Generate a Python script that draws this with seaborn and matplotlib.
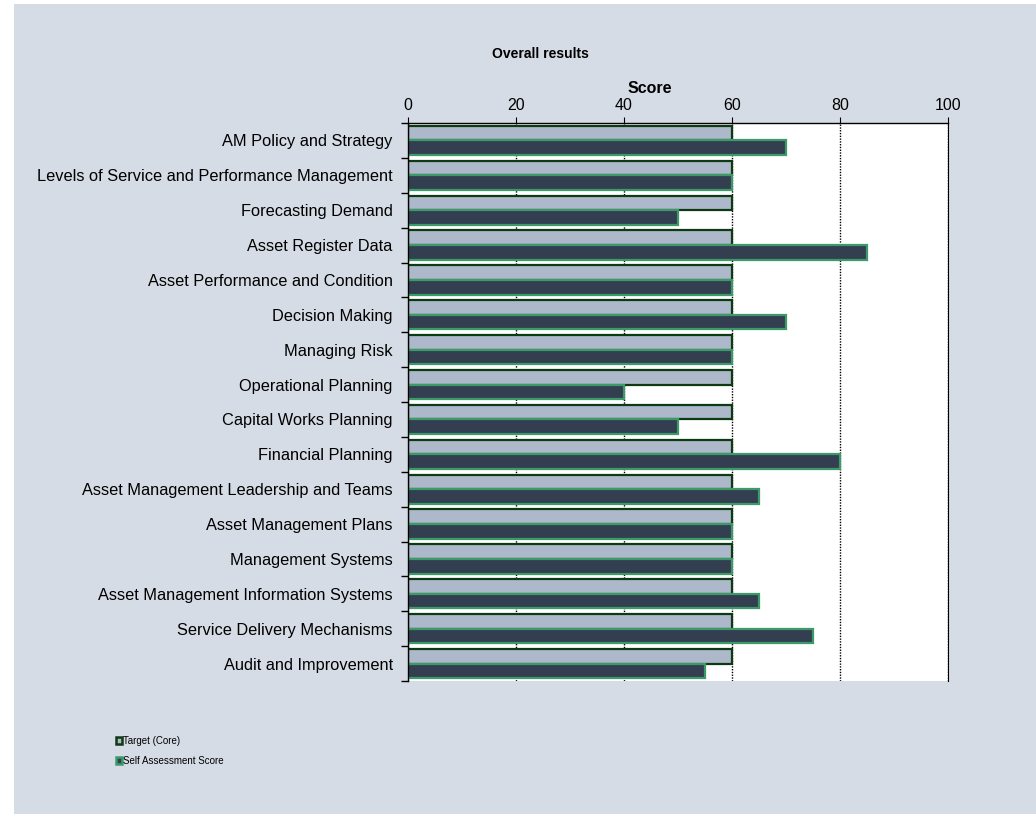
import matplotlib
matplotlib.use("Agg")
import matplotlib.pyplot as plt
import seaborn as sns
import pandas as pd
import numpy as np
from matplotlib.patches import Rectangle, Patch

categories = [
    "AM Policy and Strategy",
    "Levels of Service and Performance Management",
    "Forecasting Demand",
    "Asset Register Data",
    "Asset Performance and Condition",
    "Decision Making",
    "Managing Risk",
    "Operational Planning",
    "Capital Works Planning",
    "Financial Planning",
    "Asset Management Leadership and Teams",
    "Asset Management Plans",
    "Management Systems",
    "Asset Management Information Systems",
    "Service Delivery Mechanisms",
    "Audit and Improvement",
]
target = [60] * 16
self_score = [70, 60, 50, 85, 60, 70, 60, 40, 50, 80, 65, 60, 60, 65, 75, 55]
series = ["Target (Core)", "Self Assessment Score"]
xticks = [0, 20, 40, 60, 80, 100]

df = pd.DataFrame({
    "Category": categories * 2,
    "Score": target + self_score,
    "Series": [series[0]] * 16 + [series[1]] * 16,
})

sns.set_style("white")
plt.rcParams["font.family"] = ["Liberation Sans", "DejaVu Sans"]
plt.rcParams["text.color"] = "black"
plt.rcParams["axes.labelcolor"] = "black"
plt.rcParams["xtick.color"] = "black"
plt.rcParams["ytick.color"] = "black"

fill_t, edge_t = "#ADB9CA", "#0D3A12"
fill_s, edge_s = "#333F50", "#3B9A68"

fig = plt.figure(figsize=(10.36, 8.14), dpi=100)
fig.patch.set_facecolor("white")
fig.patches.append(Rectangle((14 / 1036, 0), 1, 1 - 4 / 814, transform=fig.transFigure,
                             facecolor="#D6DCE5", edgecolor="none", zorder=-10))
ax = fig.add_axes([408 / 1036, 1 - 681 / 814, 540 / 1036, (681 - 123) / 814])
ax.set_facecolor("white")

sns.barplot(data=df, y="Category", x="Score", hue="Series", orient="h",
            palette=[fill_t, fill_s], width=0.84, dodge=True, ax=ax,
            legend=False, saturation=1)
for bar in ax.containers[0]:
    bar.set_edgecolor(edge_t)
    bar.set_linewidth(1.6)
for bar in ax.containers[1]:
    bar.set_edgecolor(edge_s)
    bar.set_linewidth(1.6)

ax.set_xlim(0, 100)
ax.set_ylim(15.5, -0.5)
ax.set_xticks(xticks)
ax.xaxis.tick_top()
ax.xaxis.set_label_position("top")
ax.set_xlabel("Score", fontsize=11.5, fontweight="bold", labelpad=1)
ax.xaxis.set_label_coords(0.447, 1.053)
ax.set_ylabel("")
ax.tick_params(axis="x", labelsize=11.5, length=4, direction="out", top=True, pad=3)
ax.tick_params(axis="y", which="major", length=0, labelsize=11.8, pad=11)
ax.set_yticks(np.arange(-0.5, 16, 1), minor=True)
ax.tick_params(axis="y", which="minor", left=True, length=5, width=1, direction="out")
ax.set_axisbelow(True)
ax.grid(axis="x", linestyle=(0, (1, 1)), color="black", linewidth=1)
ax.grid(axis="y", visible=False)
ax.spines["bottom"].set_visible(False)
ax.spines["right"].set_linestyle((0, (1, 1)))
ax.spines["right"].set_color("black")
for s in ["left", "top"]:
    ax.spines[s].set_color("black")
    ax.spines[s].set_linewidth(1)

fig.text(540 / 1036, 1 - 54 / 814, "Overall results", ha="center", va="center",
         fontsize=10, fontweight="bold")

handles = [Patch(facecolor=fill_t, edgecolor=edge_t, linewidth=1.8),
           Patch(facecolor=fill_s, edgecolor=edge_s, linewidth=1.8)]
fig.legend(handles, series, loc="upper left", bbox_to_anchor=(111 / 1036, 1 - 731 / 814),
           frameon=False, fontsize=7, handlelength=0.6, handleheight=0.7,
           handletextpad=0.1, labelspacing=1.0, borderpad=0)

fig.savefig("out.png", dpi=100, facecolor=fig.get_facecolor())
